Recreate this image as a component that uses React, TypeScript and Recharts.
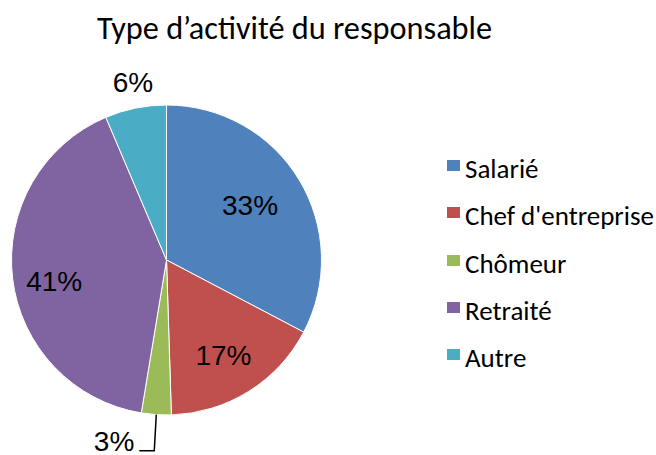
import { PieChart, Pie, Cell, Legend } from 'recharts';

const categories = ['Salarié', "Chef d'entreprise", 'Chômeur', 'Retraité', 'Autre'];
const shares = [32.7, 16.8, 3.1, 41.0, 6.4];
const colors = ['#4F81BD', '#C0504D', '#9BBB59', '#8064A2', '#4BACC6'];

const data = categories.map((name, i) => ({ name, value: shares[i] }));

const RADIAN = Math.PI / 180;
// label distance from centre, as a share of the radius, plus small nudges
const labelRadius = [0.645, 0.705, 0, 0.73, 1.18];
const nudgeX = [-2, -1, 0, 0, 3];
const nudgeY = [-3, 3, 0, 8, 2];

const labelFont = "'Liberation Sans', Arial, sans-serif";

const renderLabel = (props: any) => {
  const { cx, cy, midAngle, outerRadius, percent, index } = props;
  const text = `${Math.round(percent * 100)}%`;
  const cos = Math.cos(-midAngle * RADIAN);
  const sin = Math.sin(-midAngle * RADIAN);
  if (index === 2) {
    // small slice: label below with leader line
    const sx = cx + outerRadius * cos;
    const sy = cy + outerRadius * sin;
    const ey = sy + 36;
    return (
      <g>
        <polyline
          points={`${sx},${sy} ${sx - 2},${ey} ${sx - 17},${ey}`}
          fill="none"
          stroke="#000"
          strokeWidth={1.5}
        />
        <text
          x={sx - 22}
          y={ey - 9}
          textAnchor="end"
          dominantBaseline="central"
          fontFamily={labelFont}
          fontSize={28}
          fill="#000"
        >
          {text}
        </text>
      </g>
    );
  }
  const r = outerRadius * labelRadius[index];
  return (
    <text
      x={cx + r * cos + nudgeX[index]}
      y={cy + r * sin + nudgeY[index]}
      textAnchor="middle"
      dominantBaseline="central"
      fontFamily={labelFont}
      fontSize={28}
      fill="#000"
    >
      {text}
    </text>
  );
};

const renderLegend = () => (
  <div>
    {categories.map((c, i) => (
      <div
        key={c}
        style={{ position: 'relative', height: 47.3, whiteSpace: 'nowrap' }}
      >
        <span
          style={{
            position: 'absolute',
            left: 0,
            top: 6,
            width: 13,
            height: 11,
            background: colors[i],
          }}
        />
        <span
          style={{
            position: 'absolute',
            left: 18,
            top: 0,
            lineHeight: '30px',
            fontFamily: "Carlito, 'Open Sans', sans-serif",
            fontSize: 27,
            color: '#000',
          }}
        >
          {c}
        </span>
      </div>
    ))}
  </div>
);

export default function App() {
  return (
    <div style={{ position: 'absolute', left: 0, top: 0, width: 656, height: 455, background: '#fff' }}>
      <div
        style={{
          position: 'absolute',
          left: 0,
          top: 8,
          width: 589,
          textAlign: 'center',
          lineHeight: '40px',
          fontFamily: "Carlito, 'Open Sans', sans-serif",
          fontSize: 32.3,
          color: '#000',
        }}
      >
        Type d’activité du responsable
      </div>
      <PieChart width={656} height={455}>
        <Pie
          data={data}
          dataKey="value"
          nameKey="name"
          cx={161.5}
          cy={255}
          outerRadius={155}
          startAngle={90}
          endAngle={-270}
          stroke="#fff"
          strokeWidth={1}
          label={renderLabel}
          labelLine={false}
          isAnimationActive={false}
        >
          {data.map((d, i) => (
            <Cell key={d.name} fill={colors[i]} />
          ))}
        </Pie>
        <Legend
          content={renderLegend}
          wrapperStyle={{ position: 'absolute', left: 447, top: 154, width: 209 }}
        />
      </PieChart>
    </div>
  );
}
